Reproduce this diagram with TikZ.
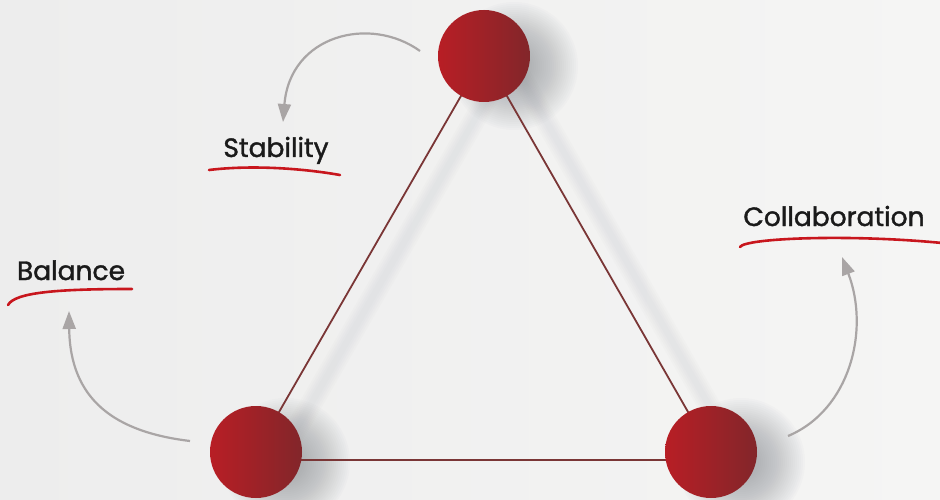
\documentclass[tikz,border=0pt]{standalone}
\usepackage{fontspec}
\setmainfont{Poppins}
\newfontfamily\labelfont{Poppins}[FakeBold=1.4]
\usetikzlibrary{arrows.meta}

\definecolor{bgleft}{HTML}{EDEDED}
\definecolor{bgright}{HTML}{F5F5F4}
\definecolor{ballred}{HTML}{B81E25}
\definecolor{balldark}{HTML}{82262A}
\definecolor{edgered}{HTML}{7A3636}
\definecolor{arrowgray}{HTML}{A9A5A5}
\definecolor{underred}{HTML}{C8161D}
\definecolor{ink}{HTML}{1A1A1A}
\definecolor{shadowgray}{HTML}{7E8288}

\begin{document}
\begin{tikzpicture}[x=1pt, y=-1pt,
  ball/.style={circle, minimum size=92pt, inner sep=0pt, left color=ballred, right color=balldark},
  edge/.style={draw=edgered, line width=1.8pt},
  hint/.style={draw=arrowgray, line width=2.2pt, -{Triangle[length=18pt, width=13pt]}},
  swoosh/.style={draw=underred, line width=2.6pt, line cap=round},
  word/.style={anchor=base, text=ink, inner sep=0pt, font=\labelfont\fontsize{26.5}{30}\selectfont},
  blob/.style={fill=shadowgray, opacity=0.026},
  haze/.style={draw=shadowgray, opacity=0.02}]

\fill[left color=bgleft, right color=bgright] (0,0) rectangle (940,500);
\useasboundingbox (0,0) rectangle (940,500);

\coordinate (t) at (484,56);
\coordinate (l) at (256,452);
\coordinate (r) at (711,452);

\foreach \w in {22,18,14,10,6}
{
  \draw[haze, line width=\w pt] ([shift={(25,4)}]t) -- ([shift={(25,4)}]l);
  \draw[haze, line width=\w pt] ([shift={(27,4)}]t) -- ([shift={(27,4)}]r);
}

\foreach \c in {t,l,r}
  \foreach \s in {64,62,...,18}
    \fill[blob] ([shift={(30,10)}]\c) circle (\s pt);

\draw[edge] (t) -- (l);
\draw[edge] (t) -- (r);
\draw[edge] ([yshift=-8pt]l) -- ([yshift=-8pt]r);

\node[ball] (top) at (t) {};
\node[ball] (left) at (l) {};
\node[ball] (right) at (r) {};

\node[word] (stability) at (276,157) {Stability};
\node[word] (balance) at (71,280) {Balance};
\node[word] (collab) at (834,226) {Collaboration};

\draw[swoosh] (209,170) .. controls (250,165) and (300,168) .. (340,175);
\draw[swoosh] (8,305) .. controls (15,292) and (60,289) .. (132,289);
\draw[swoosh] (740,247) .. controls (745,238) and (850,234) .. (942,243);

\coordinate (s0) at (420,51);
\coordinate (s1) at (283,122);
\coordinate (b0) at (190,441);
\coordinate (b1) at (69,311);
\coordinate (c0) at (788,436);
\coordinate (c1) at (842,257);

\draw[hint] (s0) .. controls (370,15) and (290,35) .. (s1);
\draw[hint] (b0) .. controls (115,432) and (70,400) .. (b1);
\draw[hint] (c0) .. controls (850,410) and (870,330) .. (c1);

\end{tikzpicture}
\end{document}
